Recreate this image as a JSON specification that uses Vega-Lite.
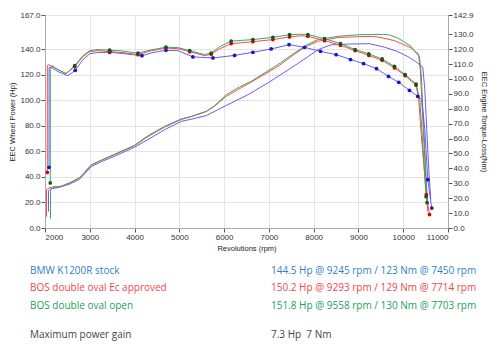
{
  "$schema": "https://vega.github.io/schema/vega-lite/v6.json",
  "background": "white",
  "padding": {"left": 8, "top": 11, "right": 4, "bottom": 4},
  "config": {
    "view": {"stroke": null},
    "font": "Liberation Sans",
    "concat": {"spacing": 4},
    "axis": {
      "labelFontSize": 8,
      "labelColor": "#333333",
      "labelFont": "Liberation Sans",
      "titleFont": "Liberation Sans",
      "titleFontSize": 7.5,
      "titleFontWeight": "normal",
      "titleColor": "#222222",
      "tickColor": "#555555",
      "tickSize": 4,
      "domainColor": "#aaaaaa",
      "gridColor": "#e4e4e4",
      "labelPadding": 1
    }
  },
  "datasets": {
    "curves": [
      {"series":"stock","kind":"power","rpm":2078,"value":12.8,"marker":0},
      {"series":"stock","kind":"power","rpm":2079,"value":29.3,"marker":0},
      {"series":"stock","kind":"power","rpm":2134,"value":30.8,"marker":0},
      {"series":"stock","kind":"power","rpm":2290,"value":31.6,"marker":0},
      {"series":"stock","kind":"power","rpm":2551,"value":34.4,"marker":0},
      {"series":"stock","kind":"power","rpm":2775,"value":38.3,"marker":0},
      {"series":"stock","kind":"power","rpm":3033,"value":48.1,"marker":0},
      {"series":"stock","kind":"power","rpm":3257,"value":52.0,"marker":0},
      {"series":"stock","kind":"power","rpm":3556,"value":56.3,"marker":0},
      {"series":"stock","kind":"power","rpm":4002,"value":63.4,"marker":0},
      {"series":"stock","kind":"power","rpm":4299,"value":69.3,"marker":0},
      {"series":"stock","kind":"power","rpm":4672,"value":77.1,"marker":0},
      {"series":"stock","kind":"power","rpm":5042,"value":83.6,"marker":0},
      {"series":"stock","kind":"power","rpm":5265,"value":85.3,"marker":0},
      {"series":"stock","kind":"power","rpm":5600,"value":88.1,"marker":0},
      {"series":"stock","kind":"power","rpm":5935,"value":94.1,"marker":0},
      {"series":"stock","kind":"power","rpm":6531,"value":104.5,"marker":0},
      {"series":"stock","kind":"power","rpm":6977,"value":113.7,"marker":0},
      {"series":"stock","kind":"power","rpm":7497,"value":125.5,"marker":0},
      {"series":"stock","kind":"power","rpm":7832,"value":133.3,"marker":0},
      {"series":"stock","kind":"power","rpm":8093,"value":139.8,"marker":0},
      {"series":"stock","kind":"power","rpm":8390,"value":143.6,"marker":0},
      {"series":"stock","kind":"power","rpm":8763,"value":144.2,"marker":0},
      {"series":"stock","kind":"power","rpm":9245,"value":144.5,"marker":0},
      {"series":"stock","kind":"power","rpm":9582,"value":141.8,"marker":0},
      {"series":"stock","kind":"power","rpm":9879,"value":138.3,"marker":0},
      {"series":"stock","kind":"power","rpm":10102,"value":134.4,"marker":0},
      {"series":"stock","kind":"power","rpm":10280,"value":130.4,"marker":0},
      {"series":"stock","kind":"power","rpm":10437,"value":126.1,"marker":0},
      {"series":"stock","kind":"power","rpm":10482,"value":108.5,"marker":0},
      {"series":"stock","kind":"power","rpm":10526,"value":77.1,"marker":0},
      {"series":"stock","kind":"power","rpm":10571,"value":45.7,"marker":0},
      {"series":"stock","kind":"power","rpm":10616,"value":22.2,"marker":0},

      {"series":"ec","kind":"power","rpm":2033,"value":8.9,"marker":0},
      {"series":"ec","kind":"power","rpm":2034,"value":30.0,"marker":0},
      {"series":"ec","kind":"power","rpm":2089,"value":31.4,"marker":0},
      {"series":"ec","kind":"power","rpm":2201,"value":32.4,"marker":0},
      {"series":"ec","kind":"power","rpm":2364,"value":32.6,"marker":0},
      {"series":"ec","kind":"power","rpm":2551,"value":35.3,"marker":0},
      {"series":"ec","kind":"power","rpm":2775,"value":39.2,"marker":0},
      {"series":"ec","kind":"power","rpm":3033,"value":49.3,"marker":0},
      {"series":"ec","kind":"power","rpm":3257,"value":53.0,"marker":0},
      {"series":"ec","kind":"power","rpm":3556,"value":57.5,"marker":0},
      {"series":"ec","kind":"power","rpm":4002,"value":64.5,"marker":0},
      {"series":"ec","kind":"power","rpm":4299,"value":71.6,"marker":0},
      {"series":"ec","kind":"power","rpm":4672,"value":79.1,"marker":0},
      {"series":"ec","kind":"power","rpm":5042,"value":85.1,"marker":0},
      {"series":"ec","kind":"power","rpm":5265,"value":87.3,"marker":0},
      {"series":"ec","kind":"power","rpm":5600,"value":91.2,"marker":0},
      {"series":"ec","kind":"power","rpm":5788,"value":95.5,"marker":0},
      {"series":"ec","kind":"power","rpm":6047,"value":103.2,"marker":0},
      {"series":"ec","kind":"power","rpm":6308,"value":108.5,"marker":0},
      {"series":"ec","kind":"power","rpm":6605,"value":114.4,"marker":0},
      {"series":"ec","kind":"power","rpm":7201,"value":126.7,"marker":0},
      {"series":"ec","kind":"power","rpm":7573,"value":136.3,"marker":0},
      {"series":"ec","kind":"power","rpm":7832,"value":142.4,"marker":0},
      {"series":"ec","kind":"power","rpm":8093,"value":146.4,"marker":0},
      {"series":"ec","kind":"power","rpm":8540,"value":149.3,"marker":0},
      {"series":"ec","kind":"power","rpm":8986,"value":150.0,"marker":0},
      {"series":"ec","kind":"power","rpm":9293,"value":150.2,"marker":0},
      {"series":"ec","kind":"power","rpm":9433,"value":149.8,"marker":0},
      {"series":"ec","kind":"power","rpm":9805,"value":146.9,"marker":0},
      {"series":"ec","kind":"power","rpm":10176,"value":141.2,"marker":0},
      {"series":"ec","kind":"power","rpm":10341,"value":136.5,"marker":0},
      {"series":"ec","kind":"power","rpm":10381,"value":124.2,"marker":0},
      {"series":"ec","kind":"power","rpm":10426,"value":92.8,"marker":0},
      {"series":"ec","kind":"power","rpm":10471,"value":61.4,"marker":0},
      {"series":"ec","kind":"power","rpm":10515,"value":30.0,"marker":0},
      {"series":"ec","kind":"power","rpm":10549,"value":12.8,"marker":0},

      {"series":"open","kind":"power","rpm":2123,"value":7.3,"marker":0},
      {"series":"open","kind":"power","rpm":2124,"value":30.0,"marker":0},
      {"series":"open","kind":"power","rpm":2201,"value":32.0,"marker":0},
      {"series":"open","kind":"power","rpm":2364,"value":32.8,"marker":0},
      {"series":"open","kind":"power","rpm":2551,"value":35.5,"marker":0},
      {"series":"open","kind":"power","rpm":2775,"value":39.5,"marker":0},
      {"series":"open","kind":"power","rpm":3033,"value":49.6,"marker":0},
      {"series":"open","kind":"power","rpm":3257,"value":53.2,"marker":0},
      {"series":"open","kind":"power","rpm":3556,"value":57.9,"marker":0},
      {"series":"open","kind":"power","rpm":4002,"value":64.9,"marker":0},
      {"series":"open","kind":"power","rpm":4299,"value":72.4,"marker":0},
      {"series":"open","kind":"power","rpm":4672,"value":79.7,"marker":0},
      {"series":"open","kind":"power","rpm":5042,"value":85.5,"marker":0},
      {"series":"open","kind":"power","rpm":5265,"value":87.5,"marker":0},
      {"series":"open","kind":"power","rpm":5600,"value":91.5,"marker":0},
      {"series":"open","kind":"power","rpm":5788,"value":95.9,"marker":0},
      {"series":"open","kind":"power","rpm":6047,"value":104.5,"marker":0},
      {"series":"open","kind":"power","rpm":6346,"value":110.6,"marker":0},
      {"series":"open","kind":"power","rpm":6605,"value":115.0,"marker":0},
      {"series":"open","kind":"power","rpm":7201,"value":128.1,"marker":0},
      {"series":"open","kind":"power","rpm":7573,"value":137.3,"marker":0},
      {"series":"open","kind":"power","rpm":7832,"value":143.2,"marker":0},
      {"series":"open","kind":"power","rpm":8093,"value":147.7,"marker":0},
      {"series":"open","kind":"power","rpm":8540,"value":150.3,"marker":0},
      {"series":"open","kind":"power","rpm":8986,"value":151.5,"marker":0},
      {"series":"open","kind":"power","rpm":9558,"value":151.8,"marker":0},
      {"series":"open","kind":"power","rpm":9700,"value":151.3,"marker":0},
      {"series":"open","kind":"power","rpm":9879,"value":149.0,"marker":0},
      {"series":"open","kind":"power","rpm":10176,"value":142.4,"marker":0},
      {"series":"open","kind":"power","rpm":10287,"value":137.3,"marker":0},
      {"series":"open","kind":"power","rpm":10363,"value":134.4,"marker":0},
      {"series":"open","kind":"power","rpm":10403,"value":120.2,"marker":0},
      {"series":"open","kind":"power","rpm":10437,"value":92.8,"marker":0},
      {"series":"open","kind":"power","rpm":10482,"value":61.4,"marker":0},
      {"series":"open","kind":"power","rpm":10526,"value":30.0,"marker":0},
      {"series":"open","kind":"power","rpm":10549,"value":18.3,"marker":0},

      {"series":"stock","kind":"torque","rpm":2089,"value":40.7,"marker":1},
      {"series":"stock","kind":"torque","rpm":2090,"value":107.6,"marker":0},
      {"series":"stock","kind":"torque","rpm":2134,"value":107.9,"marker":0},
      {"series":"stock","kind":"torque","rpm":2290,"value":104.9,"marker":0},
      {"series":"stock","kind":"torque","rpm":2513,"value":102.2,"marker":0},
      {"series":"stock","kind":"torque","rpm":2676,"value":105.8,"marker":1},
      {"series":"stock","kind":"torque","rpm":2848,"value":113.0,"marker":0},
      {"series":"stock","kind":"torque","rpm":3004,"value":117.0,"marker":0},
      {"series":"stock","kind":"torque","rpm":3183,"value":117.7,"marker":0},
      {"series":"stock","kind":"torque","rpm":3444,"value":117.9,"marker":1},
      {"series":"stock","kind":"torque","rpm":3741,"value":117.0,"marker":0},
      {"series":"stock","kind":"torque","rpm":4165,"value":115.6,"marker":1},
      {"series":"stock","kind":"torque","rpm":4411,"value":117.7,"marker":0},
      {"series":"stock","kind":"torque","rpm":4701,"value":119.2,"marker":1},
      {"series":"stock","kind":"torque","rpm":4969,"value":119.0,"marker":0},
      {"series":"stock","kind":"torque","rpm":5303,"value":114.8,"marker":1},
      {"series":"stock","kind":"torque","rpm":5750,"value":114.1,"marker":1},
      {"series":"stock","kind":"torque","rpm":6234,"value":115.8,"marker":1},
      {"series":"stock","kind":"torque","rpm":6643,"value":117.9,"marker":1},
      {"series":"stock","kind":"torque","rpm":7051,"value":120.1,"marker":1},
      {"series":"stock","kind":"torque","rpm":7450,"value":123.0,"marker":1},
      {"series":"stock","kind":"torque","rpm":7796,"value":121.2,"marker":1},
      {"series":"stock","kind":"torque","rpm":8154,"value":118.5,"marker":1},
      {"series":"stock","kind":"torque","rpm":8502,"value":116.3,"marker":1},
      {"series":"stock","kind":"torque","rpm":8823,"value":113.0,"marker":1},
      {"series":"stock","kind":"torque","rpm":9113,"value":110.3,"marker":1},
      {"series":"stock","kind":"torque","rpm":9404,"value":106.9,"marker":1},
      {"series":"stock","kind":"torque","rpm":9671,"value":101.7,"marker":1},
      {"series":"stock","kind":"torque","rpm":9901,"value":97.7,"marker":1},
      {"series":"stock","kind":"torque","rpm":10140,"value":92.3,"marker":1},
      {"series":"stock","kind":"torque","rpm":10325,"value":88.3,"marker":1},
      {"series":"stock","kind":"torque","rpm":10415,"value":86.1,"marker":0},
      {"series":"stock","kind":"torque","rpm":10482,"value":66.0,"marker":0},
      {"series":"stock","kind":"torque","rpm":10549,"value":32.4,"marker":1},
      {"series":"stock","kind":"torque","rpm":10609,"value":19.0,"marker":0},
      {"series":"stock","kind":"torque","rpm":10638,"value":13.4,"marker":1},

      {"series":"ec","kind":"torque","rpm":2051,"value":37.3,"marker":1},
      {"series":"ec","kind":"torque","rpm":2052,"value":108.9,"marker":0},
      {"series":"ec","kind":"torque","rpm":2089,"value":109.6,"marker":0},
      {"series":"ec","kind":"torque","rpm":2246,"value":106.9,"marker":0},
      {"series":"ec","kind":"torque","rpm":2469,"value":103.6,"marker":0},
      {"series":"ec","kind":"torque","rpm":2663,"value":108.3,"marker":1},
      {"series":"ec","kind":"torque","rpm":2848,"value":115.0,"marker":0},
      {"series":"ec","kind":"torque","rpm":2998,"value":118.3,"marker":0},
      {"series":"ec","kind":"torque","rpm":3183,"value":119.0,"marker":0},
      {"series":"ec","kind":"torque","rpm":3444,"value":118.3,"marker":1},
      {"series":"ec","kind":"torque","rpm":3741,"value":117.7,"marker":0},
      {"series":"ec","kind":"torque","rpm":4076,"value":116.3,"marker":1},
      {"series":"ec","kind":"torque","rpm":4344,"value":118.7,"marker":0},
      {"series":"ec","kind":"torque","rpm":4701,"value":120.7,"marker":1},
      {"series":"ec","kind":"torque","rpm":4969,"value":120.3,"marker":0},
      {"series":"ec","kind":"torque","rpm":5230,"value":118.3,"marker":1},
      {"series":"ec","kind":"torque","rpm":5565,"value":115.6,"marker":0},
      {"series":"ec","kind":"torque","rpm":5712,"value":116.6,"marker":1},
      {"series":"ec","kind":"torque","rpm":5906,"value":120.3,"marker":0},
      {"series":"ec","kind":"torque","rpm":6158,"value":123.7,"marker":1},
      {"series":"ec","kind":"torque","rpm":6643,"value":125.0,"marker":1},
      {"series":"ec","kind":"torque","rpm":7089,"value":126.4,"marker":1},
      {"series":"ec","kind":"torque","rpm":7462,"value":128.2,"marker":1},
      {"series":"ec","kind":"torque","rpm":7714,"value":129.0,"marker":0},
      {"series":"ec","kind":"torque","rpm":7870,"value":128.6,"marker":1},
      {"series":"ec","kind":"torque","rpm":8243,"value":125.7,"marker":1},
      {"series":"ec","kind":"torque","rpm":8600,"value":122.6,"marker":1},
      {"series":"ec","kind":"torque","rpm":8926,"value":119.0,"marker":1},
      {"series":"ec","kind":"torque","rpm":9232,"value":115.8,"marker":1},
      {"series":"ec","kind":"torque","rpm":9529,"value":112.5,"marker":1},
      {"series":"ec","kind":"torque","rpm":9805,"value":107.4,"marker":1},
      {"series":"ec","kind":"torque","rpm":10042,"value":102.2,"marker":1},
      {"series":"ec","kind":"torque","rpm":10287,"value":95.7,"marker":1},
      {"series":"ec","kind":"torque","rpm":10348,"value":86.1,"marker":0},
      {"series":"ec","kind":"torque","rpm":10393,"value":66.0,"marker":0},
      {"series":"ec","kind":"torque","rpm":10459,"value":42.6,"marker":0},
      {"series":"ec","kind":"torque","rpm":10515,"value":22.4,"marker":1},
      {"series":"ec","kind":"torque","rpm":10587,"value":9.0,"marker":1},

      {"series":"open","kind":"torque","rpm":2118,"value":30.2,"marker":1},
      {"series":"open","kind":"torque","rpm":2119,"value":106.2,"marker":0},
      {"series":"open","kind":"torque","rpm":2156,"value":108.9,"marker":0},
      {"series":"open","kind":"torque","rpm":2290,"value":106.2,"marker":0},
      {"series":"open","kind":"torque","rpm":2469,"value":103.6,"marker":0},
      {"series":"open","kind":"torque","rpm":2663,"value":108.9,"marker":1},
      {"series":"open","kind":"torque","rpm":2848,"value":115.6,"marker":0},
      {"series":"open","kind":"torque","rpm":2998,"value":119.0,"marker":0},
      {"series":"open","kind":"torque","rpm":3183,"value":119.7,"marker":0},
      {"series":"open","kind":"torque","rpm":3444,"value":119.3,"marker":1},
      {"series":"open","kind":"torque","rpm":3741,"value":118.7,"marker":0},
      {"series":"open","kind":"torque","rpm":4076,"value":117.3,"marker":1},
      {"series":"open","kind":"torque","rpm":4344,"value":119.3,"marker":0},
      {"series":"open","kind":"torque","rpm":4701,"value":121.3,"marker":1},
      {"series":"open","kind":"torque","rpm":4969,"value":121.0,"marker":0},
      {"series":"open","kind":"torque","rpm":5230,"value":119.0,"marker":1},
      {"series":"open","kind":"torque","rpm":5565,"value":116.3,"marker":0},
      {"series":"open","kind":"torque","rpm":5712,"value":117.4,"marker":1},
      {"series":"open","kind":"torque","rpm":5906,"value":121.7,"marker":0},
      {"series":"open","kind":"torque","rpm":6158,"value":125.4,"marker":1},
      {"series":"open","kind":"torque","rpm":6643,"value":126.4,"marker":1},
      {"series":"open","kind":"torque","rpm":7089,"value":127.9,"marker":1},
      {"series":"open","kind":"torque","rpm":7462,"value":129.7,"marker":1},
      {"series":"open","kind":"torque","rpm":7703,"value":130.0,"marker":0},
      {"series":"open","kind":"torque","rpm":7870,"value":129.8,"marker":1},
      {"series":"open","kind":"torque","rpm":8243,"value":127.0,"marker":1},
      {"series":"open","kind":"torque","rpm":8600,"value":123.7,"marker":1},
      {"series":"open","kind":"torque","rpm":8926,"value":119.7,"marker":1},
      {"series":"open","kind":"torque","rpm":9232,"value":116.8,"marker":1},
      {"series":"open","kind":"torque","rpm":9529,"value":113.4,"marker":1},
      {"series":"open","kind":"torque","rpm":9805,"value":108.5,"marker":1},
      {"series":"open","kind":"torque","rpm":10042,"value":102.9,"marker":1},
      {"series":"open","kind":"torque","rpm":10287,"value":96.6,"marker":1},
      {"series":"open","kind":"torque","rpm":10370,"value":86.1,"marker":0},
      {"series":"open","kind":"torque","rpm":10415,"value":66.0,"marker":0},
      {"series":"open","kind":"torque","rpm":10459,"value":45.8,"marker":0},
      {"series":"open","kind":"torque","rpm":10511,"value":21.0,"marker":1},
      {"series":"open","kind":"torque","rpm":10533,"value":17.0,"marker":1}
    ],
    "summary": [
      {"series":"stock","line":1,"column":0,"text":"BMW K1200R stock"},
      {"series":"stock","line":1,"column":1,"text":"144.5 Hp @ 9245 rpm / 123 Nm @ 7450 rpm"},
      {"series":"ec","line":2,"column":0,"text":"BOS double oval Ec approved"},
      {"series":"ec","line":2,"column":1,"text":"150.2 Hp @ 9293 rpm / 129 Nm @ 7714 rpm"},
      {"series":"open","line":3,"column":0,"text":"BOS double oval open"},
      {"series":"open","line":3,"column":1,"text":"151.8 Hp @ 9558 rpm / 130 Nm @ 7703 rpm"},
      {"series":"gain","line":4.65,"column":0,"text":"Maximum power gain"},
      {"series":"gain","line":4.65,"column":1,"text":"7.3 Hp\u00a0 7 Nm"}
    ]
  },
  "vconcat": [
    {
      "width": 403,
      "height": 213,
      "data": {"name": "curves"},
      "encoding": {
        "x": {
          "field": "rpm", "type": "quantitative",
          "scale": {"domain": [2000, 11000], "nice": false, "zero": false},
          "axis": {"title": "Revolutions (rpm)", "values": [2000,3000,4000,5000,6000,7000,8000,9000,10000,11000], "format": "d", "grid": true, "titlePadding": 3}
        }
      },
      "layer": [
        {
          "transform": [{"filter": "datum.kind === 'power'"}],
          "mark": {"type": "line", "strokeWidth": 1},
          "encoding": {
            "y": {
              "field": "value", "type": "quantitative",
              "scale": {"domain": [0, 167], "nice": false},
              "axis": {"orient": "left", "title": "EEC Wheel Power (Hp)", "values": [0,20,40,60,80,100,120,140,167], "format": ".1f", "grid": true, "titlePadding": 3}
            },
            "stroke": {
              "field": "series", "type": "nominal",
              "scale": {"domain": ["stock","ec","open"], "range": ["#6b5cf2","#ff4a4a","#3aa86a"]},
              "legend": null
            }
          }
        },
        {
          "transform": [{"filter": "datum.kind === 'torque'"}],
          "encoding": {
            "y": {
              "field": "value", "type": "quantitative",
              "scale": {"domain": [0, 142.9], "nice": false},
              "axis": {"orient": "right", "title": "EEC Engine Torque-Loss(Nm)", "values": [0,10,20,30,40,50,60,70,80,90,100,110,120,130,142.9], "format": ".1f", "grid": false, "titlePadding": 6}
            }
          },
          "layer": [
            {
              "mark": {"type": "line", "strokeWidth": 1},
              "encoding": {
                "stroke": {
                  "field": "series", "type": "nominal",
                  "scale": {"domain": ["stock","ec","open"], "range": ["#6b5cf2","#ff4a4a","#3aa86a"]},
                  "legend": null
                }
              }
            },
            {
              "transform": [{"filter": "datum.marker === 1"}],
              "mark": {"type": "point", "filled": true, "size": 14, "opacity": 1},
              "encoding": {
                "fill": {
                  "field": "series", "type": "nominal",
                  "scale": {"domain": ["stock","ec","open"], "range": ["#1414d2","#e00000","#0b5a20"]},
                  "legend": null
                }
              }
            }
          ]
        }
      ],
      "resolve": {"scale": {"y": "independent"}}
    },
    {
      "width": 403,
      "height": 80,
      "data": {"name": "summary"},
      "mark": {"type": "text", "align": "left", "baseline": "middle", "font": "Open Sans", "fontSize": 10},
      "encoding": {
        "x": {"field": "column", "type": "quantitative", "scale": {"domain": [0.0622, 1.7344], "nice": false, "zero": false}, "axis": null},
        "y": {"field": "line", "type": "quantitative", "scale": {"domain": [0.157, 4.727], "nice": false, "zero": false, "reverse": true}, "axis": null},
        "text": {"field": "text"},
        "color": {
          "field": "series", "type": "nominal",
          "scale": {"domain": ["stock","ec","open","gain"], "range": ["#2f80c8","#f0474c","#22a05c","#444444"]},
          "legend": null
        }
      }
    }
  ]
}
